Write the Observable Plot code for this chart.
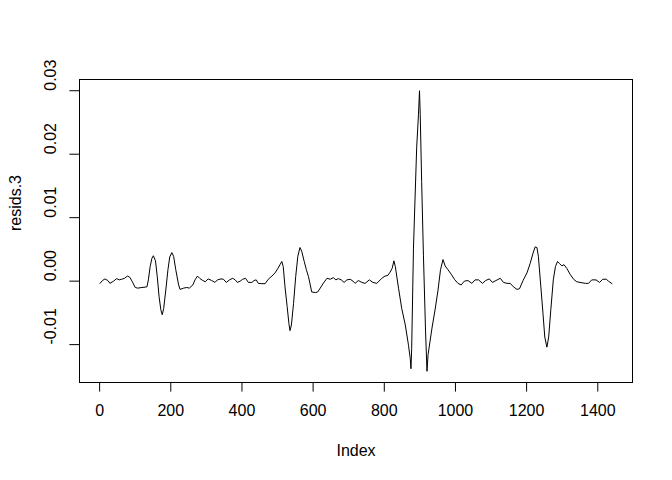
<!DOCTYPE html>
<html><head><meta charset="utf-8">
<script src="https://cdn.jsdelivr.net/npm/d3@7"></script>
<script src="https://cdn.jsdelivr.net/npm/@observablehq/plot@0.6"></script>
<style>html,body{margin:0;padding:0;background:#fff} #chart{width:672px;height:480px}</style>
</head><body><div id="chart"></div>
<script>
const index = [1,8,15,23,29,39,48,55,62,70,78,85,92,100,107,119,133,137,142,147,151,157,162,167,172,176,180,186,192,197,203,208,214,222,226,236,245,252,262,268,275,282,290,297,305,315,324,331,341,348,356,365,374,381,387,395,402,410,418,428,434,440,446,456,465,474,484,493,501,507,512,516,521,527,532,535,539,545,551,557,563,568,575,581,587,592,596,606,613,620,629,639,648,657,664,671,679,687,695,704,712,718,727,737,746,758,768,779,793,802,810,816,822,827,831,840,849,859,868,873,875,877,882,891,896,899,901,905,910,916,920,923,934,943,951,958,965,971,979,988,997,1007,1016,1025,1035,1046,1055,1065,1076,1085,1095,1104,1114,1126,1135,1145,1154,1163,1173,1180,1190,1201,1210,1218,1224,1229,1233,1240,1246,1251,1257,1262,1268,1275,1281,1287,1292,1299,1305,1313,1322,1332,1341,1350,1365,1374,1383,1395,1405,1414,1424,1430,1440];
const resids3 = [-0.00035,0.0001,0.00035,0.0001,-0.00035,0.0,0.0004,0.0002,0.0003,0.00045,0.0008,0.0006,-0.0001,-0.0010,-0.0011,-0.0010,-0.0009,0.0002,0.0023,0.0036,0.0040,0.0032,0.0007,-0.0024,-0.0045,-0.0053,-0.0043,-0.0014,0.0018,0.0038,0.0045,0.0039,0.0018,-0.0006,-0.0013,-0.0011,-0.0010,-0.0011,-0.0006,0.0002,0.0008,0.0004,0.0001,-0.0001,0.00035,0.0001,-0.0002,0.0002,0.00035,0.0003,-0.0002,0.0002,0.00045,0.0002,-0.0002,0.0,0.0003,0.00045,-0.0002,-0.0002,0.0001,0.0002,-0.00035,-0.0004,-0.0004,0.0003,0.0008,0.0013,0.0020,0.0026,0.0031,0.0023,-0.0009,-0.0040,-0.0067,-0.0078,-0.0069,-0.0035,0.0007,0.0039,0.0053,0.0047,0.0031,0.0018,0.0007,-0.0006,-0.0017,-0.0018,-0.0017,-0.0011,-0.0003,0.00045,0.0003,0.00055,0.0002,0.0004,0.0002,-0.0002,0.0002,0.0003,0.0,-0.00035,0.0001,-0.0002,-0.00035,0.0002,-0.0002,-0.00035,0.00045,0.0008,0.0009,0.0014,0.0020,0.0032,0.0023,-0.0011,-0.0043,-0.0069,-0.0101,-0.0122,-0.0138,-0.0106,0.0052,0.0210,0.0262,0.0300,0.0263,0.0157,0.0041,-0.0080,-0.0142,-0.0116,-0.0074,-0.0044,-0.0014,0.0018,0.0034,0.0024,0.0018,0.0011,0.0003,-0.00035,-0.0006,0.0,0.0001,-0.00035,0.0002,0.0002,-0.00035,0.0001,0.00035,-0.0002,0.0001,0.00045,-0.0002,-0.00035,-0.00035,-0.0009,-0.0013,-0.0012,0.0001,0.0013,0.0028,0.0044,0.0054,0.0053,0.0039,-0.0009,-0.0051,-0.0088,-0.0104,-0.0088,-0.0045,0.0002,0.0023,0.0031,0.0028,0.0024,0.0026,0.0020,0.0011,0.0003,-0.0001,-0.0002,-0.00035,-0.00035,0.0002,0.0002,-0.0002,0.0003,0.0003,0.0,-0.0004];
const xTicks = [0,200,400,600,800,1000,1200,1400];
const xTickLabels = ["0","200","400","600","800","1000","1200","1400"];
const yTicks = [-0.01,0,0.01,0.02,0.03];
const yTickLabels = ["-0.01","0.00","0.01","0.02","0.03"];
const xLabel = "Index";
const yLabel = "resids.3";

const data = index.map((i, k) => ({i, v: resids3[k]}));
const pad = ext => { const r = ext[1] - ext[0]; return [ext[0] - 0.04 * r, ext[1] + 0.04 * r]; };
const xDom = pad(d3.extent(index));
const yDom = pad(d3.extent(resids3));

const chart = Plot.plot({
  width: 672, height: 480,
  marginLeft: 79, marginRight: 40, marginTop: 79, marginBottom: 98,
  style: {fontFamily: "'Liberation Sans', Arial, sans-serif", fontSize: "16px", background: "white", color: "black", overflow: "visible"},
  x: {domain: xDom},
  y: {domain: yDom},
  marks: [
    Plot.axisX({ticks: xTicks, tickSize: 9.6, tickPadding: 13, tickFormat: (d, i) => xTickLabels[i], label: null, fontSize: 16, strokeWidth: 1}),
    Plot.axisY({ticks: yTicks, tickSize: 9.6, tickFormat: () => "", label: null, strokeWidth: 1}),
    Plot.text(yTicks, {y: d => d, text: (d, i) => yTickLabels[i], frameAnchor: "left", dx: -29, rotate: -90, fontSize: 16, lineAnchor: "middle", fill: "black"}),
    Plot.text([yLabel], {text: d => d, frameAnchor: "left", dx: -64, rotate: -90, fontSize: 16, lineAnchor: "middle", fill: "black"}),
    Plot.text([xLabel], {text: d => d, frameAnchor: "bottom", dy: 68, fontSize: 16, lineAnchor: "middle", fill: "black"}),
    Plot.line(data, {x: "i", y: "v", stroke: "black", strokeWidth: 1}),
    Plot.frame({stroke: "black", strokeWidth: 1})
  ]
});
document.getElementById("chart").appendChild(chart);
</script>
</body></html>
